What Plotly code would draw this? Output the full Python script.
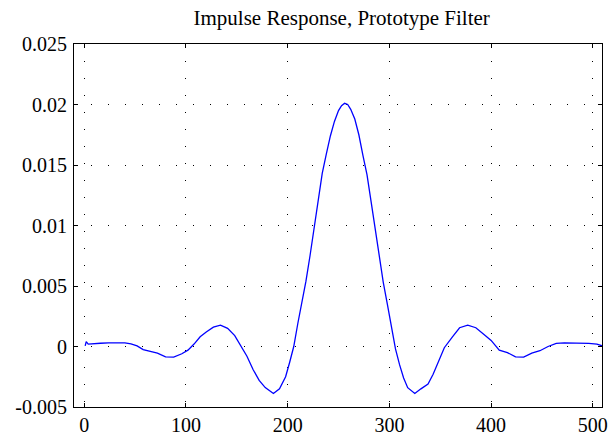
import plotly.graph_objects as go

# sample index of the prototype filter taps
n = [1, 2, 4, 8, 16, 24, 32, 40, 46, 52, 58, 64, 72, 80, 88, 96, 102, 108,
     114, 120, 127, 134, 141, 148, 154, 160, 166, 172, 178, 186, 192, 198,
     202, 206, 210, 214, 218, 222, 226, 230, 234, 238, 242, 246, 250, 253,
     256, 259, 262, 266, 270, 274, 278, 282, 286, 290, 294, 298, 302, 306,
     310, 314, 318, 325, 331, 338, 343, 348, 354, 362, 369, 377, 385, 393,
     400, 408, 416, 424, 432, 440, 448, 456, 464, 472, 480, 488, 496, 504,
     508, 511]

# impulse response values
h = [0.00005, 0.0004, 0.0002, 0.00024, 0.00027, 0.0003, 0.0003, 0.0003,
     0.00022, 0.00005, -0.00025, -0.0004, -0.00055, -0.00085, -0.00088,
     -0.0006, -0.0003, 0.0002, 0.0008, 0.0012, 0.0016, 0.00176, 0.0015,
     0.0009, 0.0001, -0.0008, -0.0019, -0.0028, -0.0034, -0.00388, -0.0035,
     -0.0025, -0.0013, 0.0, 0.0019, 0.0036, 0.0054, 0.0075, 0.0098, 0.0121,
     0.0143, 0.0159, 0.0174, 0.0186, 0.0195, 0.0199,
     0.0201, 0.0200, 0.0196, 0.0188, 0.0175, 0.0158, 0.0142, 0.0120, 0.0097,
     0.0074, 0.0053, 0.0035, 0.0015, -0.0002, -0.0015, -0.0026, -0.0034,
     -0.00388, -0.0035, -0.0031, -0.0023, -0.0013, -0.0001, 0.0008, 0.00155,
     0.00176, 0.00155, 0.001, 0.0005, -0.0003, -0.0005, -0.00085, -0.00088,
     -0.00055, -0.00035, 0.0, 0.00025, 0.0003, 0.0003, 0.0003, 0.00026,
     0.0002, 0.0001, 0.0]

x_ticks = [0, 100, 200, 300, 400, 500]
x_labels = ['0', '100', '200', '300', '400', '500']
y_ticks = [-0.005, 0, 0.005, 0.01, 0.015, 0.02, 0.025]
y_labels = ['-0.005', '0', '0.005', '0.01', '0.015', '0.02', '0.025']

font = 'Liberation Serif, Times New Roman, serif'

fig = go.Figure()
fig.add_trace(go.Scatter(x=n, y=h, mode='lines',
                         line=dict(color='#0000ff', width=1.3),
                         showlegend=False))

axis_style = dict(
    showline=True, linecolor='black', linewidth=1, mirror='ticks',
    ticks='inside', ticklen=4, tickcolor='black',
    showgrid=True, gridcolor='black', gridwidth=1, griddash='1px,16px',
    zeroline=False, automargin=False,
    tickfont=dict(family=font, size=20, color='black'),
)

fig.update_xaxes(range=[-10, 509], tickvals=x_ticks, ticktext=x_labels,
                 **axis_style)
fig.update_yaxes(range=[-0.005, 0.025], tickvals=y_ticks, ticktext=y_labels,
                 ticklabelstandoff=2, **axis_style)

fig.update_layout(
    width=610, height=437,
    margin=dict(l=74, r=8, t=44, b=30),
    paper_bgcolor='white', plot_bgcolor='white',
    title=dict(text='Impulse Response, Prototype Filter',
               x=0.507, xref='paper', xanchor='center',
               y=0.959, yanchor='middle',
               font=dict(family=font, size=21, color='black')),
)

# drop the default 8px body margin so the figure fills the window
fig.write_html("out.html", config={'displayModeBar': False},
               post_script="document.body.style.margin='0';")
